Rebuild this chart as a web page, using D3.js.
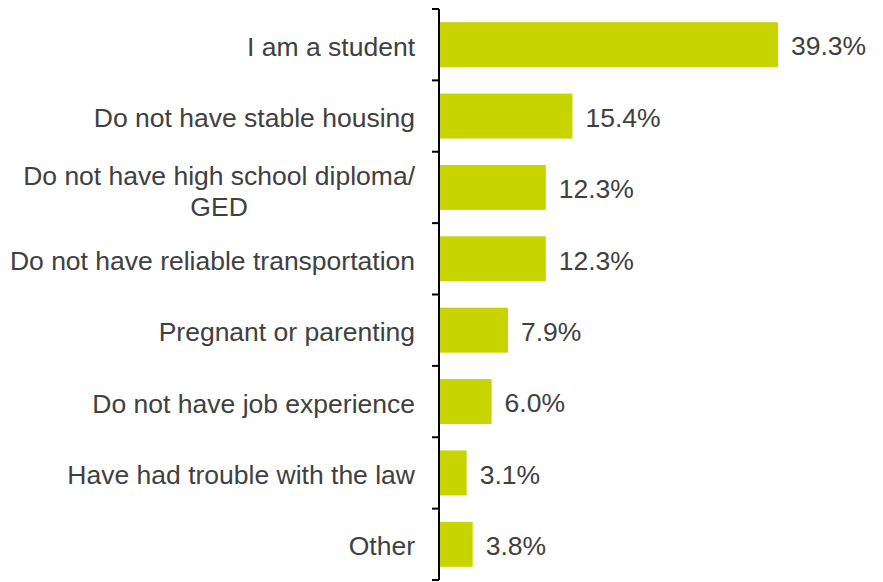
<!DOCTYPE html>
<html>
<head>
<meta charset="utf-8">
<script src="https://cdn.jsdelivr.net/npm/d3@7"></script>
<style>
  html, body { margin: 0; padding: 0; background: #fff; }
  svg text { font-family: "Liberation Sans", Arial, sans-serif; fill: #404040; }
</style>
</head>
<body>
<svg id="chart" width="883" height="582"></svg>
<script>
const categories = [
  "I am a student",
  "Do not have stable housing",
  "Do not have high school diploma/ GED",
  "Do not have reliable transportation",
  "Pregnant or parenting",
  "Do not have job experience",
  "Have had trouble with the law",
  "Other"
];
const values = [39.3, 15.4, 12.3, 12.3, 7.9, 6.0, 3.1, 3.8];
const valueLabels = ["39.3%", "15.4%", "12.3%", "12.3%", "7.9%", "6.0%", "3.1%", "3.8%"];

const svg = d3.select("#chart");
const axisX = 439;
const fontSize = 26.5;

const x = d3.scaleLinear().domain([0, 40]).range([axisX + 1, axisX + 1 + 344]);
const y = d3.scaleBand().domain(categories).range([9, 580])
  .paddingInner(0.37).paddingOuter(0.185);

// bars
svg.selectAll("rect.bar").data(categories).join("rect")
  .attr("class", "bar")
  .attr("x", x(0))
  .attr("y", d => y(d))
  .attr("width", (d, i) => x(values[i]) - x(0))
  .attr("height", y.bandwidth())
  .attr("fill", "#c8d400");

// value labels
svg.selectAll("text.val").data(categories).join("text")
  .attr("class", "val")
  .attr("x", (d, i) => x(values[i]) + 13)
  .attr("y", d => y(d) + y.bandwidth() / 2 + 1.5)
  .attr("dy", "0.35em")
  .attr("font-size", fontSize)
  .text((d, i) => valueLabels[i]);

// category labels (the long one wraps onto two centred lines)
const labelX = 415;
categories.forEach(c => {
  const cy = y(c) + y.bandwidth() / 2 + 1.7;
  if (c.indexOf("/ ") >= 0) {
    const parts = c.split("/ ");
    const t1 = svg.append("text")
      .attr("x", labelX).attr("y", cy - 13.5).attr("dy", "0.35em")
      .attr("text-anchor", "end").attr("font-size", fontSize)
      .text(parts[0] + "/");
    const w = t1.node().getComputedTextLength();
    svg.append("text")
      .attr("x", labelX - w / 2).attr("y", cy + 18).attr("dy", "0.35em")
      .attr("text-anchor", "middle").attr("font-size", fontSize)
      .text(parts[1]);
  } else {
    svg.append("text")
      .attr("x", labelX).attr("y", cy).attr("dy", "0.35em")
      .attr("text-anchor", "end").attr("font-size", fontSize)
      .text(c);
  }
});

// category axis with ticks on band boundaries
const step = y.step();
const bounds = d3.range(categories.length + 1).map(k => y.range()[0] + k * step);
svg.append("line")
  .attr("x1", axisX).attr("x2", axisX)
  .attr("y1", bounds[0]).attr("y2", bounds[bounds.length - 1])
  .attr("stroke", "#000").attr("stroke-width", 2);
svg.selectAll("line.tick").data(bounds).join("line")
  .attr("class", "tick")
  .attr("x1", axisX - 7).attr("x2", axisX)
  .attr("y1", d => d).attr("y2", d => d)
  .attr("stroke", "#000").attr("stroke-width", 2);
</script>
</body>
</html>
